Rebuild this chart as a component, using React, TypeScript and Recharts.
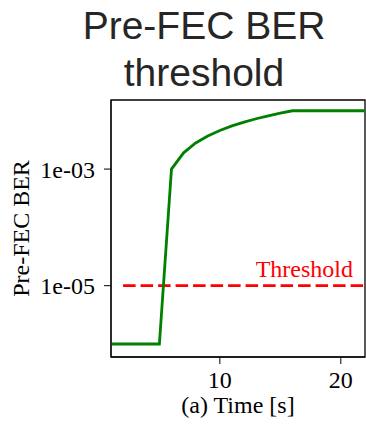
import React from "react";
import {
  LineChart,
  Line,
  XAxis,
  YAxis,
  ReferenceLine,
  ReferenceArea,
} from "recharts";

const time = [1, 2, 3, 4, 5, 6, 7, 8, 9, 10, 11, 12, 13, 14, 15, 16, 17, 18, 19, 20, 21, 22];
const ber = [
  1e-6, 1e-6, 1e-6, 1e-6, 1e-6, 1.0e-3, 1.9e-3, 2.8e-3, 3.7e-3, 4.6e-3, 5.5e-3,
  6.4e-3, 7.3e-3, 8.2e-3, 9.1e-3, 1.0e-2, 1.0e-2, 1.0e-2, 1.0e-2, 1.0e-2, 1.0e-2, 1.0e-2,
];
const thresholdValue = 1e-5;
const thresholdRange = [2, 22];
const xTicks = [10, 20];
const yTicks = [1e-5, 1e-3];
const xDomain = [1, 22];
const yDomain = [5.98e-7, 1.53e-2];

const data = time.map((t, i) => ({ t, ber: ber[i] }));

const serif = "'Liberation Serif', 'DejaVu Serif', serif";
const sans = "'Liberation Sans', Arial, sans-serif";

const fmt = (v: number) => {
  const e = Math.round(Math.log10(v));
  const s = Math.abs(e).toString().padStart(2, "0");
  return `1e${e < 0 ? "-" : "+"}${s}`;
};

const ThresholdLabel = (props: any) => {
  const { viewBox } = props;
  return (
    <text
      x={viewBox.x + viewBox.width - 12}
      y={viewBox.y - 9}
      textAnchor="end"
      fill="#ff0000"
      fontFamily={serif}
      fontSize={24}
    >
      Threshold
    </text>
  );
};

const XLabel = (props: any) => {
  const { viewBox } = props;
  return (
    <text
      x={viewBox.x + viewBox.width / 2}
      y={viewBox.y + 56}
      textAnchor="middle"
      fill="#000"
      fontFamily={serif}
      fontSize={24}
    >
      (a) Time [s]
    </text>
  );
};

const YLabel = (props: any) => {
  const { viewBox } = props;
  const cx = 29;
  const cy = viewBox.y + viewBox.height / 2;
  return (
    <text
      x={cx}
      y={cy}
      transform={`rotate(-90 ${cx} ${cy})`}
      textAnchor="middle"
      fill="#000"
      fontFamily={serif}
      fontSize={24}
    >
      Pre-FEC BER
    </text>
  );
};

export default function App() {
  return (
    <div style={{ position: "absolute", left: 0, top: 0, width: 366, height: 424, background: "#fff" }}>
      <div
        style={{
          position: "absolute",
          left: 0,
          top: 0,
          width: 408,
          textAlign: "center",
          fontFamily: sans,
          fontSize: 39,
          lineHeight: "47px",
          color: "#262626",
          paddingTop: 2,
        }}
      >
        Pre-FEC BER
        <br />
        threshold
      </div>
      <LineChart
        width={366}
        height={424}
        data={data}
        margin={{ top: 100, right: 1, left: 0, bottom: 0 }}
        style={{ position: "absolute", left: 0, top: 0 }}
      >
        <XAxis
          dataKey="t"
          type="number"
          domain={xDomain}
          ticks={xTicks}
          allowDataOverflow
          height={67}
          tickSize={7}
          tickMargin={7}
          stroke="#000"
          tick={{ fill: "#000", fontFamily: serif, fontSize: 24 }}
          label={<XLabel />}
        />
        <YAxis
          type="number"
          scale="log"
          domain={yDomain}
          ticks={yTicks}
          allowDataOverflow
          width={111}
          tickSize={7}
          tickMargin={9}
          tickFormatter={fmt}
          stroke="#000"
          tick={{ fill: "#000", fontFamily: serif, fontSize: 24 }}
          label={<YLabel />}
        />
        <ReferenceArea
          x1={xDomain[0]}
          x2={xDomain[1]}
          y1={yDomain[0]}
          y2={yDomain[1]}
          fill="none"
          stroke="#000"
          strokeWidth={1.3}
          ifOverflow="visible"
        />
        <ReferenceLine
          segment={[
            { x: thresholdRange[0], y: thresholdValue },
            { x: thresholdRange[1], y: thresholdValue },
          ]}
          stroke="#ff0000"
          strokeWidth={2.8}
          strokeDasharray="12.5 5"
          label={<ThresholdLabel />}
        />
        <Line
          dataKey="ber"
          stroke="#008000"
          strokeWidth={2.8}
          dot={false}
          isAnimationActive={false}
        />
      </LineChart>
    </div>
  );
}
